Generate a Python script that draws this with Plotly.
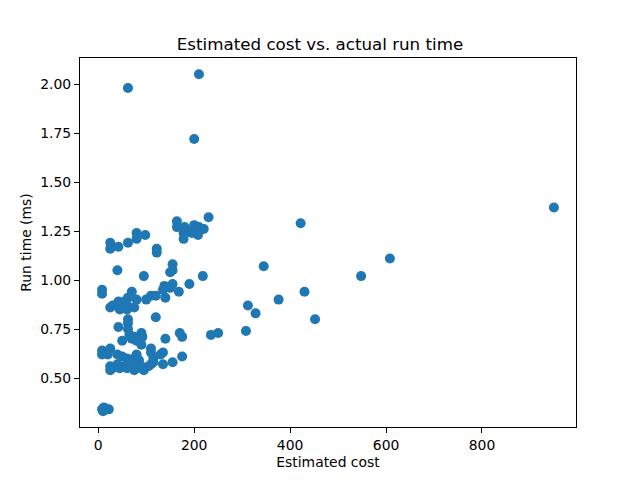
import plotly.graph_objects as go

cost = [8, 12, 18, 22, 10,
        62, 210, 200, 950, 608, 548, 422, 345, 430, 452, 376, 328, 312, 308, 250, 235, 230, 218, 190, 175, 175, 170,
        164, 164, 180, 178, 178, 200, 205, 210, 215, 220, 195, 208, 185,
        25, 25, 42, 62, 80, 80, 98, 122, 122,
        40, 95,
        8, 8, 155, 155, 150, 138, 135, 150, 155, 168, 120, 110, 100, 80, 70, 62, 42, 55, 60, 45, 75, 25, 30, 140, 60,
        42, 62, 62, 62, 120,
        50, 65, 70, 75, 80, 90, 92, 90, 140,
        8, 8, 25, 20, 40, 50, 60, 75, 85, 110, 110, 115, 135, 130, 80,
        25, 25, 30, 40, 45, 55, 60, 65, 70, 75, 80, 90, 95, 105, 110, 115, 135, 155]
runtime = [0.34, 0.35, 0.34, 0.34, 0.33,
           1.98, 2.05, 1.72, 1.37, 1.11, 1.02, 1.29, 1.07, 0.94, 0.80, 0.90, 0.83, 0.87, 0.74, 0.73, 0.72, 1.32, 1.02, 0.98, 0.61, 0.71, 0.73,
           1.30, 1.27, 1.27, 1.24, 1.21, 1.28, 1.25, 1.27, 1.26, 1.26, 1.24, 1.23, 1.25,
           1.19, 1.16, 1.17, 1.19, 1.24, 1.21, 1.23, 1.16, 1.14,
           1.05, 1.02,
           0.95, 0.93, 1.08, 1.05, 1.04, 0.97, 0.95, 0.96, 0.98, 0.94, 0.92, 0.92, 0.90, 0.90, 0.94, 0.91, 0.89, 0.89, 0.87, 0.85, 0.86, 0.86, 0.87, 0.91, 0.85,
           0.76, 0.80, 0.78, 0.75, 0.81,
           0.69, 0.72, 0.70, 0.71, 0.69, 0.73, 0.71, 0.67, 0.70,
           0.64, 0.62, 0.65, 0.62, 0.62, 0.61, 0.60, 0.60, 0.59, 0.65, 0.63, 0.60, 0.63, 0.62, 0.62,
           0.56, 0.54, 0.55, 0.57, 0.55, 0.56, 0.55, 0.57, 0.56, 0.54, 0.55, 0.56, 0.54, 0.56, 0.57, 0.58, 0.57, 0.58]

x_ticks = [0, 200, 400, 600, 800]
y_ticks = [0.50, 0.75, 1.00, 1.25, 1.50, 1.75, 2.00]

fig = go.Figure()
fig.add_trace(go.Scatter(x=cost, y=runtime, mode="markers",
                         marker=dict(color="#1f77b4", size=10, line=dict(width=0))))

axis_common = dict(showline=True, linecolor="black", linewidth=1, mirror=True,
                   ticks="outside", ticklen=5, tickcolor="black", showgrid=False,
                   zeroline=False, tickfont=dict(size=13.9, color="black"))

fig.update_layout(
    width=640, height=480,
    paper_bgcolor="white", plot_bgcolor="white",
    font=dict(family="DejaVu Sans", color="black"),
    margin=dict(l=72, r=72, t=50, b=61),
    showlegend=False,
    title=dict(text="Estimated cost vs. actual run time", x=(320 - 8) / 640, xanchor="center",
               y=1 - 36 / 480, yanchor="middle", font=dict(size=16.7)),
    xaxis=dict(range=[-38, 996], tickvals=x_ticks, ticktext=[str(v) for v in x_ticks],
               title=dict(text="Estimated cost", font=dict(size=13.9), standoff=5), **axis_common),
    yaxis=dict(range=[0.25, 2.133], tickvals=y_ticks, ticktext=[f"{v:.2f}" for v in y_ticks],
               title=dict(text="Run time (ms)", font=dict(size=13.9), standoff=5), **axis_common),
)

fig.write_html("out.html")
